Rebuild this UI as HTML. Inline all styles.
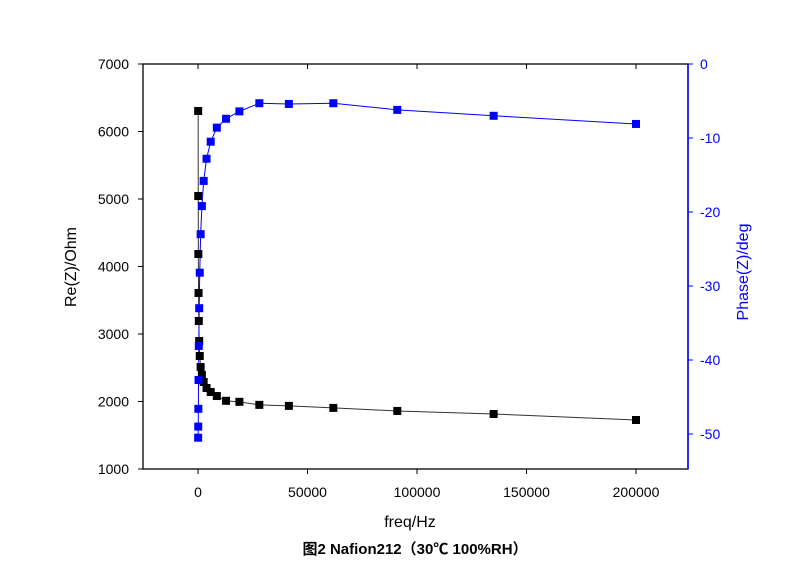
<!DOCTYPE html>
<html><head><meta charset="utf-8"><style>
body{margin:0;background:#fff;font-family:"Liberation Sans","Noto Sans CJK SC",sans-serif}
</style></head><body>
<svg id="c" width="800" height="564" xmlns="http://www.w3.org/2000/svg" font-family="Liberation Sans, Noto Sans CJK SC, sans-serif"></svg>
<script>
const freqs=[75,111,165,245,365,540,800,1200,1780,2600,3900,5800,8600,12800,18900,28000,41500,61800,91000,135000,200000];
const reZ=[6304,5044,4185,3607,3193,2896,2674,2511,2393,2289,2200,2141,2081,2010,1995,1950,1935,1905,1860,1815,1726];
const phase=[-50.5,-49,-46.6,-42.7,-38.1,-33,-28.2,-23,-19.2,-15.8,-12.8,-10.5,-8.6,-7.4,-6.4,-5.3,-5.4,-5.3,-6.2,-7.0,-8.1];
const xTicks=[0,50000,100000,150000,200000];
const yTicks=[1000,2000,3000,4000,5000,6000,7000];
const pTicks=[0,-10,-20,-30,-40,-50];
const L=143,R=688,T=64,B=469;
const X=v=>198+(v/200000)*(636-198);
const Y=v=>B-(v-1000)/6000*(B-T);
const P=v=>T-v/10*74;
const s=document.getElementById('c');const NS='http://www.w3.org/2000/svg';
function mk(t,a,txt){const e=document.createElementNS(NS,t);for(const k in a)e.setAttribute(k,a[k]);if(txt!==undefined)e.textContent=txt;s.appendChild(e);return e;}
let e;
e=mk('rect',{x:L,y:T,width:R-L,height:B-T,fill:'none',stroke:'#000','stroke-width':1.3});

e=mk('line',{x1:R,y1:T,x2:R,y2:B,stroke:'#0000ff','stroke-width':1.5});

xTicks.forEach(v=>{const x=X(v);mk('line',{x1:x,y1:B,x2:x,y2:B+5,stroke:'#000'});mk('line',{x1:x,y1:T,x2:x,y2:T+5,stroke:'#000'});
e=mk('text',{x:x,y:B+28,'text-anchor':'middle','font-size':14},String(v));
});
yTicks.forEach(v=>{const y=Y(v);mk('line',{x1:L-5,y1:y,x2:L,y2:y,stroke:'#000'});
e=mk('text',{x:L-14,y:y+5,'text-anchor':'end','font-size':14},String(v));
});
pTicks.forEach(v=>{const y=P(v);mk('line',{x1:R,y1:y,x2:R+5,y2:y,stroke:'#0000ff'});
e=mk('text',{x:R+12,y:y+5,'font-size':14,fill:'#0000ff'},String(v));
});
e=mk('polyline',{points:freqs.map((f,i)=>X(f)+','+Y(reZ[i])).join(' '),fill:'none',stroke:'#333','stroke-width':1});

e=mk('polyline',{points:freqs.map((f,i)=>X(f)+','+P(phase[i])).join(' '),fill:'none',stroke:'#0000ff','stroke-width':1});

freqs.forEach((f,i)=>{e=mk('rect',{x:X(f)-4,y:Y(reZ[i])-4,width:8,height:8,fill:'#000'});
});
freqs.forEach((f,i)=>{e=mk('rect',{x:X(f)-4,y:P(phase[i])-4,width:8,height:8,fill:'#0000ff'});
});
e=mk('text',{x:410,y:527,'text-anchor':'middle','font-size':16},'freq/Hz');

e=mk('text',{x:76,y:267,'text-anchor':'middle','font-size':16,transform:'rotate(-90 76 267)'},'Re(Z)/Ohm');

e=mk('text',{x:748,y:272,'text-anchor':'middle','font-size':16,fill:'#0000ff',transform:'rotate(-90 748 272)'},'Phase(Z)/deg');

e=mk('text',{x:415,y:554,'text-anchor':'middle','font-size':15,'font-weight':'bold'},'图2 Nafion212（30℃ 100%RH）');

</script>
</body></html>
